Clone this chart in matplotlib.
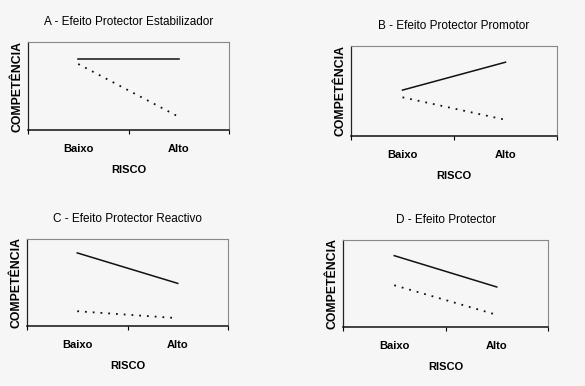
import matplotlib.pyplot as plt

plt.rcParams['font.family'] = ['Liberation Sans', 'DejaVu Sans']

categories = ['Baixo', 'Alto']
titles = ['A - Efeito Protector Estabilizador', 'B - Efeito Protector Promotor',
          'C - Efeito Protector Reactivo', 'D - Efeito Protector']
# competence values (0-1 scale of the plot box) for low / high risk
solid_vals = [[0.81, 0.81], [0.51, 0.82], [0.84, 0.49], [0.82, 0.46]]
dotted_vals = [[0.75, 0.15], [0.43, 0.18], [0.17, 0.09], [0.48, 0.14]]

W, H = 585, 386
# axes boxes in pixels: left, top, right, bottom
boxes = [(28, 42, 229, 130), (351, 46, 557, 136), (27, 239, 228, 326), (343, 240, 548, 327)]

bg = '#f6f6f6'
fig = plt.figure(figsize=(W / 100, H / 100), dpi=100, facecolor=bg)

for k in range(4):
    l, t, r, b = boxes[k]
    ax = fig.add_axes([l / W, 1 - b / H, (r - l) / W, (b - t) / H])
    ax.set_facecolor(bg)
    x = [0.5, 1.5]
    ax.plot(x, solid_vals[k], color='#111111', lw=1.1)
    ax.plot(x, dotted_vals[k], color='#111111', lw=1.3, linestyle=(0, (1, 3.3)))
    ax.set_xlim(0, 2)
    ax.set_ylim(0, 1)
    ax.set_xticks([0, 1, 2])
    ax.set_xticklabels([])
    ax.set_xticks(x, minor=True)
    ax.set_xticklabels(categories, minor=True, fontsize=8, fontweight='bold')
    ax.tick_params(axis='x', which='major', direction='out', length=3, width=0.8)
    ax.tick_params(axis='x', which='minor', length=0, pad=10)
    ax.set_yticks([])
    for s in ['top', 'right']:
        ax.spines[s].set_color('#888888')
        ax.spines[s].set_linewidth(0.8)
    ax.spines['left'].set_color('#222222')
    ax.spines['left'].set_linewidth(0.9)
    ax.spines['bottom'].set_color('#111111')
    ax.spines['bottom'].set_linewidth(1.1)
    ax.set_xlabel('RISCO', fontsize=8, fontweight='bold', labelpad=8)
    ax.set_ylabel('COMPETÊNCIA', fontsize=8.8, fontweight='bold', labelpad=3)
    ax.set_title(titles[k], fontsize=8.5, pad=12)

fig.savefig('out.png', dpi=100, facecolor=bg)
